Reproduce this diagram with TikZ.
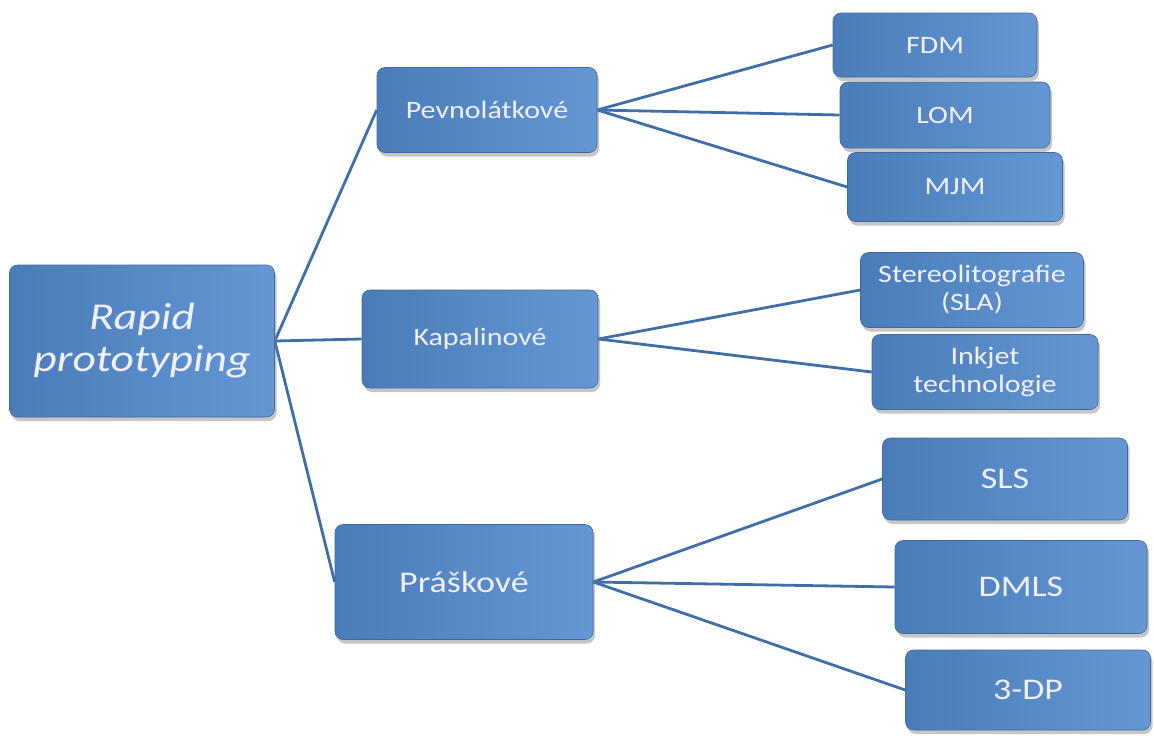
\documentclass[tikz,border=0pt]{standalone}
\usepackage{fontspec}
\setmainfont{Carlito}[FakeStretch=1.2]
\usetikzlibrary{positioning,shadows,backgrounds}
\definecolor{boxBlue}{HTML}{4A7CB9}
\definecolor{boxLight}{HTML}{6497D3}
\definecolor{lineBlue}{HTML}{3F6EA8}
\tikzset{
  box/.style={rectangle, rounded corners=8pt, left color=boxBlue, right color=boxLight,
    draw=boxBlue!85!black, line width=0.6pt, text=white!94!blue, align=center, inner sep=2pt,
    drop shadow={shadow xshift=2pt, shadow yshift=-4pt, opacity=.45}},
  rootBox/.style={box, font=\fontsize{38}{42}\selectfont\itshape},
  groupBox/.style={box, font=\fontsize{25}{29}\selectfont},
  bigBox/.style={box, font=\fontsize{30}{34}\selectfont},
  leafBox/.style={box, font=\fontsize{25}{28}\selectfont},
  branch/.style={draw=lineBlue, line width=2.8pt}
}
\begin{document}
\begin{tikzpicture}[x=1pt, y=-1pt]
      \useasboundingbox (0,0) rectangle (1154,742);

      % root
      \node[rootBox, minimum width=265pt, minimum height=152pt] (rapid) at (142,341) {Rapid\\prototyping};

      % groups
      \node[groupBox, minimum width=220pt, minimum height=85pt] (solid) at (487,110) {Pevnolátkové};
      \node[groupBox, minimum width=236pt, minimum height=98pt] (liquid) at (480,339) {Kapalinové};
      \node[bigBox, minimum width=258pt, minimum height=115pt] (powder) at (464,582) {Práškové};

      % leaves
      \node[leafBox, minimum width=204pt, minimum height=64pt] (fdm) at (935,45) {FDM};
      \node[leafBox, minimum width=210pt, minimum height=66pt] (lom) at (945,115) {LOM};
      \node[leafBox, minimum width=215pt, minimum height=69pt] (mjm) at (955,187) {MJM};

      \node[leafBox, minimum width=223pt, minimum height=75pt] (sla) at (972,290) {Stereolitografie\\(SLA)};
      \node[leafBox, minimum width=226pt, minimum height=75pt] (inkjet) at (985,372) {Inkjet\\technologie};

      \node[bigBox, minimum width=245pt, minimum height=82pt] (sls) at (1005,479) {SLS};
      \node[bigBox, minimum width=252pt, minimum height=93pt] (dmls) at (1021,587) {DMLS};
      \node[bigBox, minimum width=245pt, minimum height=80pt] (dp) at (1028,690) {3-DP};

      % connectors
      \begin{scope}[on background layer]
        \draw[branch] (rapid.east) -- (solid.west);
        \draw[branch] (rapid.east) -- (liquid.west);
        \draw[branch] (rapid.east) -- (powder.west);

        \draw[branch] (solid.east) -- (fdm.west);
        \draw[branch] (solid.east) -- (lom.west);
        \draw[branch] (solid.east) -- (mjm.west);

        \draw[branch] (liquid.east) -- (sla.west);
        \draw[branch] (liquid.east) -- (inkjet.west);

        \draw[branch] (powder.east) -- (sls.west);
        \draw[branch] (powder.east) -- (dmls.west);
        \draw[branch] (powder.east) -- (dp.west);
      \end{scope}

    \end{tikzpicture}
\end{document}
